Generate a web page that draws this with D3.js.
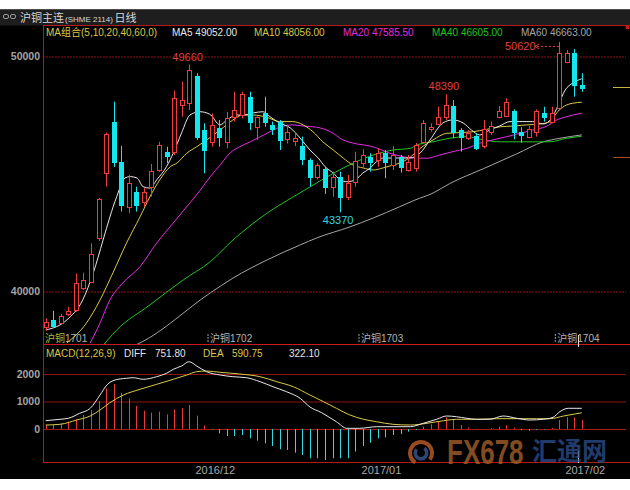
<!DOCTYPE html>
<html>
<head>
<meta charset="utf-8">
<script src="https://cdn.jsdelivr.net/npm/d3@7/dist/d3.min.js"></script>
<style>
html,body{margin:0;padding:0;background:#fff;}
svg{display:block;}
text{font-family:"Liberation Sans","Noto Sans CJK SC",sans-serif;}
</style>
</head>
<body>
<svg id="chart" width="630" height="490"></svg>
<script>
// ---------- daily bars (SHFE copper, continuous) ----------
const opens  = [38480,38790,38650,39040,39210,40160,40420,42260,45030,47230,45520,43610,44250,43820,44460,45170,45920,45950,47920,48010,
                49170,46870,46370,46950,46370,47440,47510,48260,46990,47580,47090,47230,46500,46420,46190,45600,44890,45200,44460,44890,
                44030,44670,45460,45710,45600,45910,45380,45710,45170,45260,46370,46900,47130,47440,47890,46870,46520,46620,46190,46800,
                47440,47470,47690,46800,46590,46800,47610,47230,47800,49780,50140,48790];
const highs  = [38860,39180,39040,39350,40770,40800,42050,43980,46760,48080,46190,44960,44460,44400,45430,46370,46160,48550,48930,49660,
                49290,47160,47580,47300,47650,48500,48500,48500,47450,48290,47230,47300,47100,46760,46590,45670,45480,45310,45100,45100,
                44960,45950,46050,45880,46090,46020,46190,45810,45810,46320,47300,47160,47860,48390,48150,46950,46870,46730,47300,47230,
                47890,48220,47750,46990,47040,47750,47860,47860,50620,50280,50310,49290];
const lows   = [38340,38500,38570,38960,39140,40060,40350,42150,44460,45300,43400,43340,43400,43610,44030,45090,45460,45810,47440,47720,
                46450,45030,46160,46160,46090,47230,47370,46870,46450,47010,46660,46020,46300,46190,45380,44460,44770,44150,44030,43370,
                43890,44460,45240,45100,45310,44820,45170,45060,45100,45100,46310,46800,47090,47300,46520,45950,46450,46020,46090,46660,
                47370,47440,46480,46330,46520,46590,47230,47160,47700,49710,48290,48500];
const closes = [38720,38545,38970,39180,40370,40490,41580,43920,46690,45520,43680,44600,43680,44230,45130,46230,45770,48220,48150,49430,
                46590,46020,47090,46590,47370,47720,48400,47230,47410,47230,46900,46450,46800,46520,45630,44890,45380,44460,44890,44030,
                44600,45570,45810,45520,45880,45520,45810,45310,45520,46230,47160,46990,47410,47940,46800,46590,46730,46090,46900,47040,
                47690,48050,46800,46660,46900,47690,47410,47610,50140,50140,48790,48670];

// ---------- moving averages: [bar index, value] ----------
const ma5  = [[0,38360],[2.8,38790],[4.9,39640],[6.3,40790],[7.6,42190],[8.5,43170],[9.4,44030],[10.5,44830],[11.2,44890],[12.1,44830],
              [12.9,44460],[13.8,44400],[14.7,44750],[16,45310],[16.9,45890],[18,46750],[19.1,47510],[20.4,47650],[21.7,47550],[23.1,47090],
              [24,47300],[25.3,47510],[26.2,47510],[27.5,47600],[28.8,47650],[29.7,47440],[31,47170],[32.4,46960],[33.7,46530],[35,46020],
              [36.1,45680],[37,45310],[38.1,45040],[39,44750],[39.9,44670],[41,44750],[42,45040],[43,45260],[43.8,45520],[44.7,45680],
              [46,45680],[47.3,45680],[48.2,45680],[49.6,45890],[50.9,46450],[52.6,47170],[53.9,47300],[55.3,47170],[56.4,46870],[57.5,46660],
              [58.8,46870],[60.1,47040],[61.5,47230],[62.8,47230],[64.5,47230],[65.9,47130],[67,47370],[67.9,47940],[68.8,48570],[69.8,48870],
              [71,49052.00]];
const ma10 = [[2.8,37810],[5.4,38660],[7.2,39640],[8.9,40790],[10.7,42060],[12.5,43180],[13.8,44030],[15.1,44750],[16.5,45310],[17.4,45470],
              [18.7,45890],[20,46160],[21.8,46560],[23.1,46870],[24.8,47300],[26.1,47510],[27.5,47510],[29.3,47410],[31,47230],[32.7,47230],
              [34.1,47090],[35.4,46800],[36.7,46370],[38.1,46020],[39.4,45680],[40.7,45380],[42,45260],[43.4,45170],[44.7,45260],[46,45380],
              [47.3,45520],[48.3,45720],[49.6,46090],[51.3,46450],[53.1,46730],[54.9,46760],[56.6,46800],[58.4,46900],[60.2,47010],[61.9,47040],
              [63.7,47090],[65.5,47130],[66.8,47230],[67.8,47650],[69,47940],[69.8,48010],[71,48056.00]];
const ma20 = [[5.9,37810],[7.2,38660],[8.5,39640],[10.2,40360],[12.5,41060],[14.7,42060],[16.9,42920],[19.1,43770],[20.4,44280],[21.8,44890],
              [23.1,45380],[24.4,45890],[25.7,46160],[27.1,46370],[29.3,46730],[31,46990],[32.7,47090],[34.1,47040],[35.9,46990],[37.7,46800],
              [39.4,46450],[41.2,46280],[43,46190],[44.3,46050],[45.6,45880],[46.9,45770],[48.2,45690],[50.5,45670],[52.2,45810],[53.9,45950],
              [55.8,46090],[57.5,46310],[59.2,46450],[61.1,46590],[62.8,46730],[64.5,46870],[66.4,47040],[67.7,47300],[69,47440],[71,47585.50]];
const ma40 = [[7.2,37550],[9.4,38360],[13.8,39430],[18.2,40490],[21.8,41270],[24.8,42190],[29.3,43330],[32.8,44030],[35,44450],[38.1,45030],
              [40.7,45460],[43.4,45810],[46,46020],[48.3,46090],[49.1,46230],[51.3,46370],[53.5,46520],[55.8,46590],[58,46450],[60.2,46370],
              [62.4,46370],[64.5,46370],[66.8,46370],[69,46520],[71,46605.00]];
const ma60 = [[10.7,37550],[12.5,37810],[21.8,39940],[24.8,40570],[29.3,41340],[33.7,41980],[35.9,42280],[40.3,42750],[43.4,43130],[46.9,43610],
              [48.9,43890],[51.3,44190],[53.5,44590],[58,45230],[62.4,45860],[65.9,46370],[68.1,46520],[71,46663.00]];
const maNames  = ["MA5", "MA10", "MA20", "MA40", "MA60"];
const maColors = ["#e8e8e8", "#d9c94a", "#e22ee2", "#22c422", "#a6a6a6"];

// ---------- MACD(12,26,9) ----------
const macdHist = [145,170,206,267,352,509,691,1018,1479,1636,1321,1115,836,667,594,630,533,715,752,873,
                  485,121,-20,-158,-255,-255,-218,-339,-424,-521,-618,-739,-764,-861,-945,-1067,-1067,-1127,-1067,-1067,
                  -1067,-824,-618,-497,-339,-303,-218,-182,-97,-30,85,170,267,424,327,145,48,10,-10,30,
                  85,130,50,-40,-60,-30,-20,40,327,424,424,322.10];
const diffLine = [[0,302],[1.9,353],[3,389],[4.5,571],[5.9,753],[7.2,1236],[8.1,1600],[9.2,1782],[10.7,1844],[11.6,1865],
                  [12.9,1807],[14.7,1902],[16,2025],[16.9,2171],[18,2291],[19,2447],[20,2291],[21.3,2084],[23.1,1964],[24.8,1902],
                  [26.6,1865],[28.4,1720],[30.1,1538],[31.9,1356],[33.7,1116],[35,800],[36.5,600],[38.5,265],[39.9,25],[41.6,25],
                  [43.8,84],[46,84],[48.3,84],[50,207],[51.8,353],[53.1,473],[54.4,447],[55.8,389],[57.1,353],[58.8,353],
                  [60.6,473],[62.4,389],[64.1,327],[65.9,353],[67.2,425],[68.1,629],[69.2,753],[71,751.80]];
const deaLine  = [[0,145],[1.9,171],[4.1,327],[5.9,473],[7.2,691],[8.5,956],[10.3,1236],[12.5,1444],[14.7,1625],[16.9,1807],
                  [18.7,1964],[20,2084],[21.3,2109],[23.1,2062],[25.7,2000],[28.4,1902],[30.6,1720],[32.8,1538],[35,1236],[36.8,993],
                  [38.5,753],[40.3,509],[42.1,353],[43.8,265],[46,171],[48.3,145],[50.5,207],[52.7,302],[54.4,353],[57.1,353],
                  [59.7,375],[62.4,375],[65,375],[66.8,375],[68.6,473],[71,590.75]];

// ---------- axis labels ----------
const priceTicks = [40000, 50000];
const macdTicks = [0, 1000, 2000];
const monthTickIdx = [22, 44, 71];
const monthLabels = ["2016/12", "2017/01", "2017/02"];
const contractIdx = [0, 22, 42, 68];
const contractLabels = ["沪铜1701", "沪铜1702", "沪铜1703", "沪铜1704"];
// bars whose extreme price is annotated
const highMarkIdx = [19, 53, 68];
const lowMarkIdx = [39];

// ---------- drawing ----------
const W = 630, H = 490;
const F = {left: 43, right: 626, top: 25.5, mainBottom: 344.5, macdBottom: 462.5, bgTop: 9.5, bgBottom: 479};
const RED = "#f03c3c", CYAN = "#14e6ee", FRAME = "#b41818", GRID = "#8c1414";

const svg = d3.select("#chart");
const x = d3.scaleLinear().domain([0, closes.length - 1]).range([45.7, 581.75]);
const y = d3.scaleLinear().domain([40000, 50000]).range([291.5, 56.5]);
const ym = d3.scaleLinear().domain([0, 2000]).range([429, 374]);
const px = i => Math.round(x(i));

svg.append("rect").attr("width", W).attr("height", H).attr("fill", "#fff");
svg.append("rect").attr("x", 0).attr("y", F.bgTop).attr("width", W).attr("height", F.bgBottom - F.bgTop).attr("fill", "#000");
svg.append("rect").attr("x", 0).attr("y", F.bgTop).attr("width", W).attr("height", 16).attr("fill", "#1e1e1e");

// title bar
svg.append("rect").attr("x", 3.5).attr("y", 14.5).attr("width", 5).attr("height", 4).attr("rx", 1.5)
  .attr("fill", "none").attr("stroke", "#9a9a9a");
svg.append("rect").attr("x", 10.5).attr("y", 14.5).attr("width", 5).attr("height", 4).attr("rx", 1.5)
  .attr("fill", "none").attr("stroke", "#9a9a9a");
const titleG = svg.append("g").attr("fill", "#d6d6d6");
titleG.append("text").attr("x", 20).attr("y", 21.5).attr("font-size", 11).text("沪铜主连");
titleG.append("text").attr("x", 65).attr("y", 21.5).attr("font-size", 8).text("(SHME 2114)");
titleG.append("text").attr("x", 114.5).attr("y", 21.5).attr("font-size", 11).text("日线");

// clip regions
const defs = svg.append("defs");
defs.append("clipPath").attr("id", "clipMain").append("rect")
  .attr("x", F.left + 0.5).attr("y", F.top + 0.5).attr("width", F.right - F.left).attr("height", F.mainBottom - F.top - 1);
defs.append("clipPath").attr("id", "clipMacd").append("rect")
  .attr("x", F.left + 0.5).attr("y", F.mainBottom + 0.5).attr("width", F.right - F.left).attr("height", F.macdBottom - F.mainBottom - 1);

// price grid + labels
svg.append("g").attr("transform", `translate(${F.left},0)`)
  .call(d3.axisRight(y).tickValues(priceTicks).tickSize(F.right - F.left).tickFormat(""))
  .call(g => g.select(".domain").remove())
  .selectAll("line").attr("stroke", GRID).attr("stroke-dasharray", "2,1");
svg.append("g").attr("transform", `translate(${F.left},0)`)
  .call(d3.axisLeft(y).tickValues(priceTicks).tickSize(0).tickPadding(3).tickFormat(d3.format("d")))
  .call(g => g.select(".domain").remove())
  .selectAll("text").attr("fill", "#a4a4a4").attr("font-size", 10.5).attr("font-weight", "bold")
  .attr("font-family", "Liberation Sans");

// MACD grid + labels
svg.append("g").attr("transform", `translate(${F.left},0)`)
  .call(d3.axisRight(ym).tickValues(macdTicks).tickSize(F.right - F.left).tickFormat(""))
  .call(g => g.select(".domain").remove())
  .selectAll("line").attr("stroke", d => d === 0 ? "#a81818" : GRID);
svg.append("g").attr("transform", `translate(${F.left},0)`)
  .call(d3.axisLeft(ym).tickValues(macdTicks).tickSize(0).tickPadding(3).tickFormat(d3.format("d")))
  .call(g => g.select(".domain").remove())
  .selectAll("text").attr("fill", "#a4a4a4").attr("font-size", 10.5).attr("font-weight", "bold")
  .attr("font-family", "Liberation Sans");

// frame
const frame = svg.append("g").attr("stroke", FRAME).attr("shape-rendering", "crispEdges");
frame.append("line").attr("x1", F.left).attr("x2", W).attr("y1", F.top).attr("y2", F.top);
frame.append("line").attr("x1", F.left).attr("x2", W).attr("y1", F.mainBottom).attr("y2", F.mainBottom).attr("stroke", "#c81c1c");
frame.append("line").attr("x1", F.left).attr("x2", W).attr("y1", F.macdBottom).attr("y2", F.macdBottom);
frame.append("line").attr("x1", F.left + 0.5).attr("x2", F.left + 0.5).attr("y1", F.top).attr("y2", F.macdBottom);
svg.append("circle").attr("cx", 627.5).attr("cy", F.top + 2).attr("r", 2).attr("fill", "#c81c1c");

// header legend
const legend = svg.append("g").attr("font-size", 10);
legend.append("text").attr("x", 46).attr("y", 36).attr("fill", "#d9c94a").text("MA组合(5,10,20,40,60,0)");
const maSeries = [ma5, ma10, ma20, ma40, ma60];
const legendX = [172, 254, 343, 432, 521];
maSeries.forEach((s, k) => {
  legend.append("text").attr("x", legendX[k]).attr("y", 36).attr("fill", maColors[k])
    .text(`${maNames[k]} ${s[s.length - 1][1].toFixed(2)}`);
});

// contract labels on the lower edge of the price panel
const cl = svg.append("g").attr("font-size", 10).attr("fill", "#b4b4b4");
contractIdx.forEach((ci, k) => {
  const cx = x(ci) - 3.8;
  if (k > 0) {
    svg.append("line").attr("x1", cx).attr("x2", cx).attr("y1", 334).attr("y2", 343)
      .attr("stroke", "#9a9a9a").attr("stroke-dasharray", "2,1");
  }
  const t = cl.append("text").attr("x", k === 0 ? 45 : cx + 2).attr("y", 342);
  if (k === 0) {
    t.append("tspan").attr("fill", "#a6c23a").text(contractLabels[k].slice(0, 2));
    t.append("tspan").text(contractLabels[k].slice(2));
  } else {
    t.text(contractLabels[k]);
  }
});

// moving averages
const maLine = d3.line().x(d => x(d[0])).y(d => y(d[1])).curve(d3.curveMonotoneX);
const maG = svg.append("g").attr("clip-path", "url(#clipMain)").attr("fill", "none");
[ma60, ma40, ma20, ma10, ma5].forEach((s, k) => {
  const idx = 4 - k;
  maG.append("path").attr("d", maLine(s)).attr("stroke", maColors[idx]).attr("stroke-width", 1);
});

// candlesticks
const bars = closes.map((c, i) => ({i, o: opens[i], h: highs[i], l: lows[i], c}));
const cg = svg.append("g").attr("clip-path", "url(#clipMain)");
const cand = cg.selectAll("g").data(bars).join("g");
cand.append("line")
  .attr("x1", d => px(d.i) + 0.5).attr("x2", d => px(d.i) + 0.5)
  .attr("y1", d => y(d.h)).attr("y2", d => y(d.l))
  .attr("stroke", d => d.c >= d.o ? RED : CYAN);
cand.each(function(d) {
  const g = d3.select(this);
  const t = Math.round(y(Math.max(d.o, d.c))), b = Math.round(y(Math.min(d.o, d.c)));
  if (d.c >= d.o) {
    g.append("rect").attr("x", px(d.i) - 1.5).attr("y", t + 0.5)
      .attr("width", 4).attr("height", Math.max(b - t, 1))
      .attr("fill", "#000").attr("stroke", RED).attr("shape-rendering", "crispEdges");
  } else {
    g.append("rect").attr("x", px(d.i) - 2).attr("y", t)
      .attr("width", 5).attr("height", Math.max(b - t, 1) + 1)
      .attr("fill", CYAN).attr("shape-rendering", "crispEdges");
  }
});

// extreme price annotations
function boxedLabel(tx, ty, str, color, anchor) {
  const t = svg.append("text").attr("x", tx).attr("y", ty).attr("fill", color)
    .attr("font-size", 11).attr("text-anchor", anchor).text(str);
  const bb = t.node().getBBox();
  svg.insert("rect", () => t.node()).attr("x", bb.x - 1).attr("y", bb.y + 2).attr("width", bb.width + 2)
    .attr("height", bb.height - 4).attr("fill", "#000");
  return t;
}
boxedLabel(x(highMarkIdx[0]) - 1.5, 60.5, String(highs[highMarkIdx[0]]), "#e0403c", "middle");
boxedLabel(x(highMarkIdx[1]) - 2, 89.5, String(highs[highMarkIdx[1]]), "#e0403c", "middle");
boxedLabel(x(lowMarkIdx[0]) - 2, y(lows[lowMarkIdx[0]]) + 11.5, String(lows[lowMarkIdx[0]]), "#30d4e0", "middle");
{
  const hi = highMarkIdx[2];
  const ly = y(highs[hi]) + 4.5;
  svg.append("text").attr("x", 505).attr("y", ly + 4).attr("fill", "#e0403c").attr("font-size", 11).text(String(highs[hi]));
  svg.append("line").attr("x1", 537).attr("x2", px(hi) + 0.5).attr("y1", ly).attr("y2", ly)
    .attr("stroke", "#e0403c").attr("stroke-dasharray", "2,2");
  svg.append("path").attr("d", `M535,${ly} l4,-2.5 M535,${ly} l4,2.5`).attr("stroke", "#e0403c").attr("fill", "none");
}

// right-edge markers
svg.append("line").attr("x1", 613).attr("x2", 630).attr("y1", 87.5).attr("y2", 87.5).attr("stroke", "#c8b448");
svg.append("line").attr("x1", 613).attr("x2", 630).attr("y1", 157.5).attr("y2", 157.5).attr("stroke", "#a45024");

// MACD panel
svg.append("text").attr("x", 46).attr("y", 356.5).attr("font-size", 10).attr("fill", "#d9c94a").text("MACD(12,26,9)");
svg.append("text").attr("x", 124).attr("y", 356.5).attr("font-size", 10).attr("fill", "#e6e6e6").text("DIFF");
svg.append("text").attr("x", 155).attr("y", 356.5).attr("font-size", 10).attr("fill", "#e6e6e6")
  .text(diffLine[diffLine.length - 1][1].toFixed(2));
svg.append("text").attr("x", 203).attr("y", 356.5).attr("font-size", 10).attr("fill", "#d9c94a").text("DEA");
svg.append("text").attr("x", 232).attr("y", 356.5).attr("font-size", 10).attr("fill", "#d9c94a")
  .text(deaLine[deaLine.length - 1][1].toFixed(2));
svg.append("text").attr("x", 289).attr("y", 356.5).attr("font-size", 10).attr("fill", "#e6e6e6")
  .text(macdHist[macdHist.length - 1].toFixed(2));

const mg = svg.append("g").attr("clip-path", "url(#clipMacd)");
mg.selectAll("line").data(macdHist).join("line")
  .attr("x1", (d, i) => px(i) + 0.5).attr("x2", (d, i) => px(i) + 0.5)
  .attr("y1", ym(0)).attr("y2", d => ym(d))
  .attr("stroke", d => d >= 0 ? "#e83c3c" : "#30d8e0");
const macdLine = d3.line().x(d => x(d[0])).y(d => ym(d[1])).curve(d3.curveMonotoneX);
mg.append("path").attr("d", macdLine(deaLine)).attr("fill", "none").attr("stroke", "#d9c94a");
mg.append("path").attr("d", macdLine(diffLine)).attr("fill", "none").attr("stroke", "#e8e8e8");

// month labels under the MACD panel
svg.append("g").attr("transform", `translate(0,${F.macdBottom})`)
  .call(d3.axisBottom(x).tickValues(monthTickIdx).tickSize(0).tickPadding(4).tickFormat((d, i) => monthLabels[i]))
  .call(g => g.select(".domain").remove())
  .selectAll("text").attr("fill", "#a8a8a8").attr("font-size", 11).attr("dx", 3)
  .attr("font-family", "Liberation Sans");

// cursor marks
svg.append("line").attr("x1", 578.5).attr("x2", 578.5).attr("y1", 335).attr("y2", 347).attr("stroke", "#dcdcdc");
svg.append("line").attr("x1", 578.5).attr("x2", 578.5).attr("y1", 451).attr("y2", 463).attr("stroke", "#dcdcdc");

// site mark
const wm = svg.append("g").attr("opacity", 0.78);
wm.append("path").attr("d", d3.arc()({innerRadius: 9, outerRadius: 13, startAngle: -2.6, endAngle: 2.2}))
  .attr("transform", "translate(421,453)").attr("fill", "#c2602c");
wm.append("path").attr("d", d3.arc()({innerRadius: 4, outerRadius: 7.5, startAngle: 0.6, endAngle: 5.4}))
  .attr("transform", "translate(421,453)").attr("fill", "#3c5a96");
wm.append("text").attr("transform", "translate(447,464) scale(1,1.35)").attr("font-size", 26).attr("font-weight", "bold")
  .attr("fill", "#a8602a").text("FX678");
wm.append("text").attr("x", 532).attr("y", 460).attr("font-size", 25).attr("font-weight", "bold")
  .attr("font-family", "Noto Sans CJK SC").attr("fill", "#2b4c8c").text("汇通网");
</script>
</body>
</html>
